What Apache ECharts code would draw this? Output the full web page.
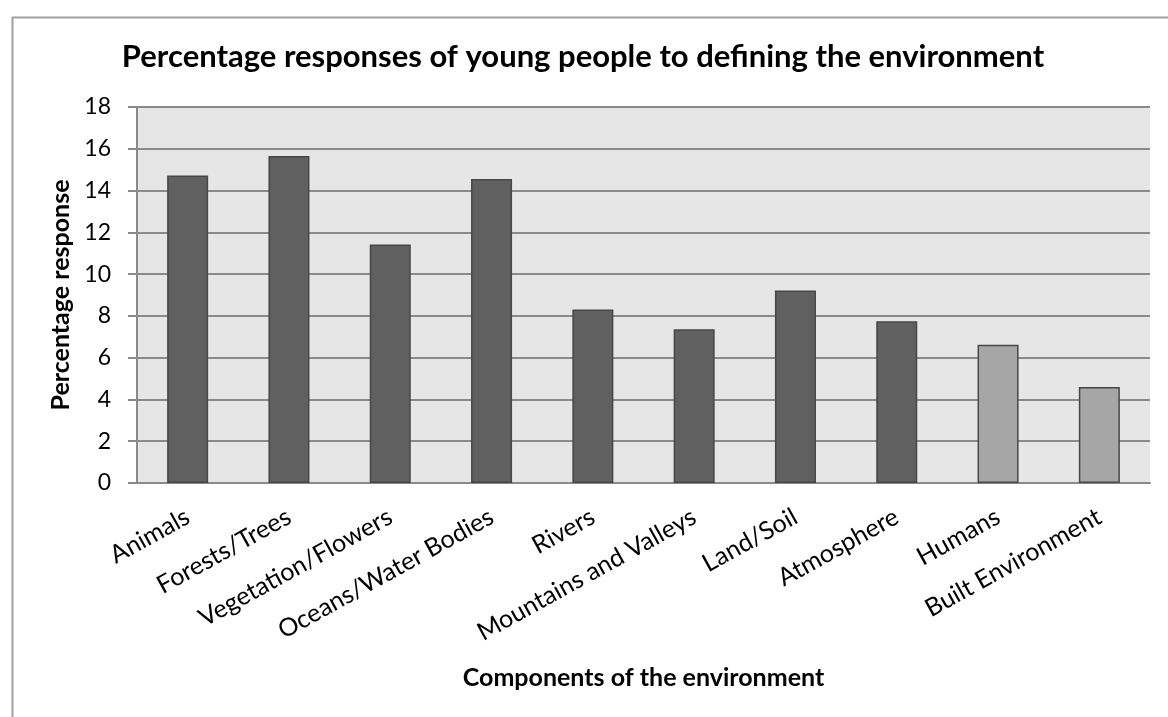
<!DOCTYPE html>
<html>
<head>
<meta charset="utf-8">
<script src="https://cdn.jsdelivr.net/npm/echarts@6/dist/echarts.min.js"></script>
<style>
html,body{margin:0;padding:0;background:#fff;}
#chart{width:1168px;height:717px;}
</style>
</head>
<body>
<div id="chart"></div>
<script>
var categories = ['Animals','Forests/Trees','Vegetation/Flowers','Oceans/Water Bodies','Rivers','Mountains and Valleys','Land/Soil','Atmosphere','Humans','Built Environment'];
var values = [14.72, 15.65, 11.42, 14.55, 8.30, 7.36, 9.22, 7.74, 6.62, 4.60];
var lighterCategories = ['Humans','Built Environment'];
var yTicks = [0,2,4,6,8,10,12,14,16,18];

var FONT = 'Lato, "Open Sans", sans-serif';
var chart = echarts.init(document.getElementById('chart'), null, {renderer:'canvas'});
chart.setOption({
  animation:false,
  backgroundColor:'#ffffff',
  graphic:[{
    type:'rect', left:10, top:15, z:-10,
    shape:{x:0,y:0,width:1300,height:900},
    style:{fill:'none', stroke:'#a0a0a0', lineWidth:2}
  }],
  title:{
    text:'Percentage responses of young people to defining the environment',
    left:578, top:36, textAlign:'center',
    textStyle:{fontFamily:FONT, fontWeight:'bold', fontSize:31, color:'#000'}
  },
  grid:{left:137, right:18, top:107, bottom:234, show:true, backgroundColor:'#e6e6e6', borderWidth:0, containLabel:false},
  xAxis:{
    type:'category', data:categories,
    name:'Components of the environment', nameLocation:'middle', nameGap:182,
    nameTextStyle:{fontFamily:FONT, fontWeight:'bold', fontSize:25, color:'#000'},
    axisLine:{lineStyle:{color:'#8a8a8a', width:2}},
    axisTick:{show:false},
    axisLabel:{rotate:29, margin:32, interval:0, fontFamily:FONT, fontSize:25, color:'#000'}
  },
  yAxis:{
    type:'value', min:0, max:18, interval:2,
    name:'Percentage response', nameLocation:'middle', nameGap:62, nameRotate:90,
    nameTextStyle:{fontFamily:FONT, fontWeight:'bold', fontSize:25, color:'#000'},
    axisLine:{show:true, lineStyle:{color:'#8a8a8a', width:2}},
    axisTick:{show:true, length:9, lineStyle:{color:'#8a8a8a', width:2}},
    splitLine:{lineStyle:{color:'#8a8a8a', width:2}},
    axisLabel:{margin:26, fontFamily:FONT, fontSize:23, color:'#000',
      formatter:function(v){ return yTicks.indexOf(v) >= 0 ? String(v) : ''; }}
  },
  series:[{
    type:'bar', data:values, barWidth:'40.5%',
    itemStyle:{
      color:function(p){ return lighterCategories.indexOf(categories[p.dataIndex]) >= 0 ? '#a6a6a6' : '#606060'; },
      borderColor:'#474747', borderWidth:1.5
    }
  }]
});
</script>
</body>
</html>
